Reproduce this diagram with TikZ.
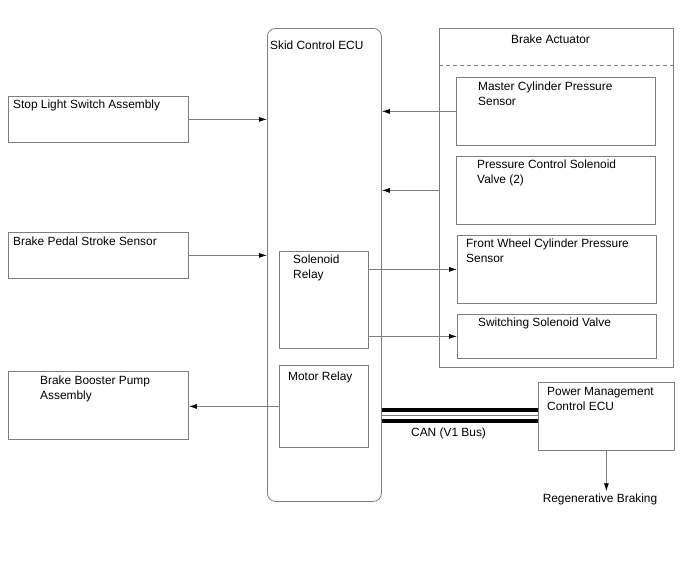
\documentclass[tikz,border=0pt]{standalone}
\usepackage{fontspec}
\setmainfont{Liberation Sans}
\usetikzlibrary{arrows.meta}
\definecolor{linegray}{HTML}{7F7F7F}
\tikzset{
  box/.style 2 args={draw=linegray, line width=0.8pt, inner sep=0pt,
    anchor=north west, minimum width=#1pt, minimum height=#2pt},
  txt/.style={anchor=north west, inner sep=0pt, align=left},
  conn/.style={draw=linegray, line width=0.8pt,
    -{Latex[length=8pt,width=5pt,color=black]}},
  canline/.style={line width=4pt, black}
}
\begin{document}
\begin{tikzpicture}[x=1pt, y=-1pt, font=\fontsize{11.9}{15}\selectfont]
  \useasboundingbox (0,0) rectangle (688,560);
  % skid control ECU
  \node[box={114}{473}, rounded corners=8pt] (ecu) at (267,28) {};
  \node[txt] at (270,41) {Skid Control ECU};
  \node[box={89}{97}] (solrel) at (279,251) {};
  \node[txt] at (293,255) {Solenoid\\Relay};
  \node[box={89}{82}] (motrel) at (279,365) {};
  \node[txt] at (288,372) {Motor Relay};
  % brake actuator
  \node[box={234}{339}] (act) at (439,28) {};
  \node[txt] at (511,35) {Brake Actuator};
  \coordinate (dash) at (0,65);
  \draw[linegray, line width=0.8pt, dash pattern=on 4pt off 3pt]
    (act.west |- dash) -- (act.east |- dash);
  \node[box={199}{68}] (mcps) at (456,77) {};
  \node[txt] at (478,82) {Master Cylinder Pressure\\Sensor};
  \node[box={199}{68}] (pcsv) at (456,156) {};
  \node[txt] at (477,160) {Pressure Control Solenoid\\Valve (2)};
  \node[box={199}{68}] (fwcps) at (457,235) {};
  \node[txt] at (466,239) {Front Wheel Cylinder Pressure\\Sensor};
  \node[box={199}{44}] (ssv) at (457,314) {};
  \node[txt] at (478,318) {Switching Solenoid Valve};
  % inputs and outputs on the left
  \node[box={180}{46}] (stop) at (8,96) {};
  \node[txt] at (13,100) {Stop Light Switch Assembly};
  \node[box={180}{46}] (pedal) at (8,232) {};
  \node[txt] at (13,237) {Brake Pedal Stroke Sensor};
  \node[box={180}{68}] (booster) at (8,371) {};
  \node[txt] at (40,376) {Brake Booster Pump\\Assembly};
  % power management
  \node[box={136}{68}] (pmc) at (538,382) {};
  \node[txt] at (547,387) {Power Management\\Control ECU};
  \node[inner sep=2pt] (regen) at (600,499) {Regenerative Braking};
  % signal lines
  \draw[conn] (stop.east) -- (stop.east -| ecu.west);
  \draw[conn] (pedal.east) -- (pedal.east -| ecu.west);
  \draw[conn] (motrel.west) -- (motrel.west -| booster.east);
  \draw[conn] (mcps.west) -- (mcps.west -| ecu.east);
  \draw[conn] (pcsv.west -| act.west) -- (pcsv.west -| ecu.east);
  \draw[conn] (solrel.east |- fwcps.west) -- (fwcps.west);
  \draw[conn] (solrel.east |- ssv.west) -- (ssv.west);
  \draw[conn] (pmc.south) -- (pmc.south |- regen.north);
  % CAN bus
  \coordinate (canA) at (0,409.5);
  \coordinate (canB) at (0,415);
  \coordinate (canC) at (0,420.5);
  \draw[canline] (ecu.east |- canA) -- (pmc.west |- canA);
  \draw[linegray, line width=0.8pt] (ecu.east |- canB) -- (pmc.west |- canB);
  \draw[canline] (ecu.east |- canC) -- (pmc.west |- canC);
  \node[anchor=west, inner sep=0pt] (can) at (411,433) {CAN (V1 Bus)};
\end{tikzpicture}
\end{document}
